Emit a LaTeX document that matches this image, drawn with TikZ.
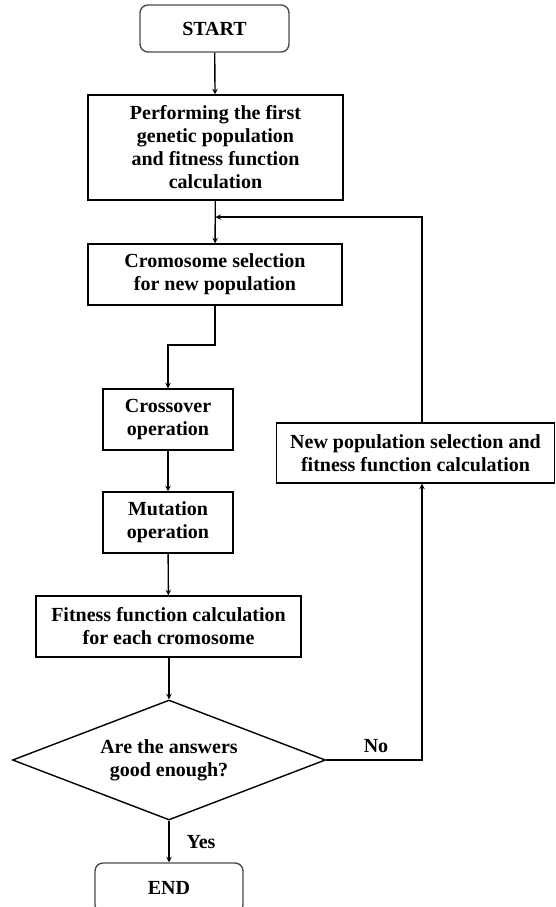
\documentclass[tikz,border=0pt]{standalone}
\usepackage{fontspec}
\setmainfont{Liberation Serif}
\usetikzlibrary{shapes.geometric, arrows}

\begin{document}
\begin{tikzpicture}[
                x=1pt, y=-1pt,
                every node/.style={font=\bfseries\fontsize{20}{23}\selectfont, align=center}, % Bold serif text
                terminal/.style={draw=black!70, rounded corners=8pt, line width=1.4pt, inner sep=0pt}, % Start and end boxes
                process/.style={draw, line width=1.4pt, inner sep=0pt}, % Plain boxes
                decision/.style={diamond, aspect=2.6, draw, line width=1.4pt, inner sep=0pt, minimum width=313pt, minimum height=120pt}, % Question
                flow/.style={->, >=stealth, line width=1.4pt} % Connectors
                ]
                \useasboundingbox (0,0) rectangle (556,907);
                \node[terminal, minimum width=149pt, minimum height=47pt] (start) at (214.5,28.5) {START};
                \node[process, minimum width=255pt, minimum height=105pt] (first) at (215.5,147.5) {Performing the first\\genetic population\\and fitness function\\calculation};
                \node[process, minimum width=254pt, minimum height=61pt] (select) at (215,274.5) {Cromosome selection\\for new population};
                \node[process, minimum width=130pt, minimum height=61pt] (cross) at (168,419.5) {Crossover\\operation};
                \node[process, minimum width=130pt, minimum height=61pt] (mutate) at (168,522.5) {Mutation\\operation};
                \node[process, minimum width=265pt, minimum height=61pt] (fitness) at (168.5,626.5) {Fitness function calculation\\for each cromosome};
                \node[decision] (check) at (169,760) {Are the answers\\good enough?};
                \node[process, minimum width=278pt, minimum height=60pt] (newpop) at (415.5,453) {New population selection and\\fitness function calculation};
                \node[terminal, minimum width=148pt, minimum height=50pt] (end) at (169,888) {END};
                \node (no) at (376,746) {No};
                \node (yes) at (201,842) {Yes};
                \coordinate (merge) at (215.5,217);
                \coordinate (turn) at (422,217);
                \coordinate (bend) at (215,345);

                \draw[flow] (start) -- (first);
                \draw[flow] (first) -- (select);
                \draw[flow] (select.south -| bend) -- (bend) -| (cross.north);
                \draw[flow] (cross) -- (mutate);
                \draw[flow] (mutate) -- (fitness);
                \draw[flow] (fitness.south -| check.north) -- (check.north);
                \draw[flow] (check.south) -- (end.north -| check.south);
                \draw[flow] (check.east) -| (newpop.south -| turn);
                \draw[flow] (newpop.north -| turn) -- (turn) -- (merge);
            \end{tikzpicture}
\end{document}
